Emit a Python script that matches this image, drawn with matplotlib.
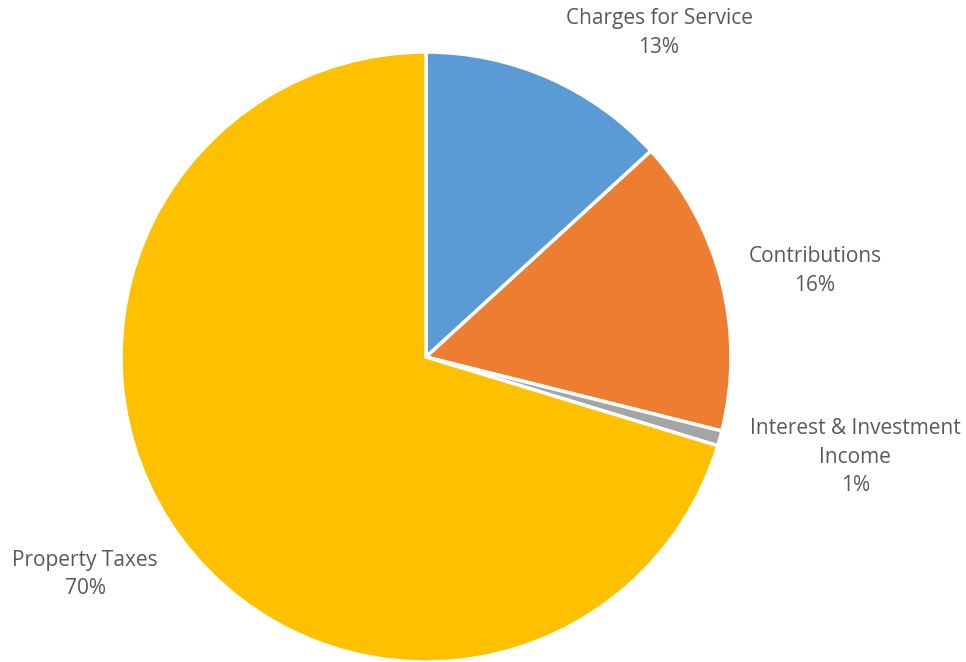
import numpy as np
import matplotlib.pyplot as plt

labels = ["Charges for Service", "Contributions", "Interest & Investment\nIncome", "Property Taxes"]
values = [13.2, 15.7, 0.8, 70.3]
pct_text = ["13%", "16%", "1%", "70%"]
colors = ["#5B9BD5", "#ED7D31", "#A5A5A5", "#FFC000"]

# label centres, in pie-radius units
label_pos = [(0.764, 1.062), (1.275, 0.282), (1.407, -0.328), (-1.118, -0.712)]

fig = plt.figure(figsize=(9.66, 6.62), dpi=100)
ax = fig.add_axes([121 / 966, 0, 610 / 966, 610 / 662])
ax.pie(values, colors=colors, startangle=90, counterclock=False,
       wedgeprops=dict(edgecolor="white", linewidth=2.5))
ax.set_xlim(-1, 1)
ax.set_ylim(-1, 1)
ax.set_aspect("equal")

for lab, p, (x, y) in zip(labels, pct_text, label_pos):
    ax.text(x, y, lab + "\n" + p, ha="center", va="center", fontsize=15,
            color="#595959", family="Open Sans", linespacing=1.45, clip_on=False)

fig.savefig("out.png", dpi=100)
